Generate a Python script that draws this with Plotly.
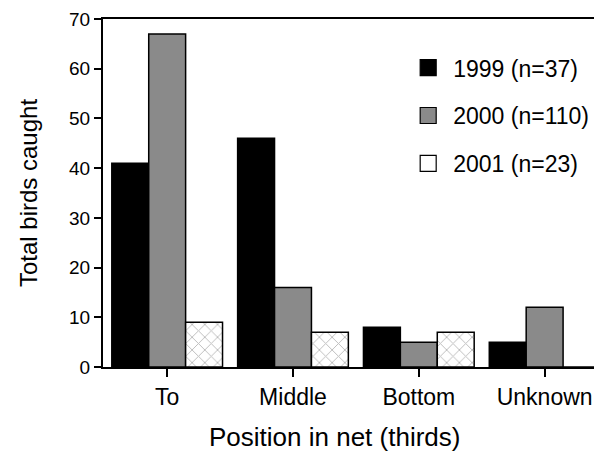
import plotly.graph_objects as go

categories = ["To", "Middle", "Bottom", "Unknown"]
y1999 = [41, 46, 8, 5]
y2000 = [67, 16, 5, 12]
y2001 = [9, 7, 7, 0]
names = ["1999 (n=37)", "2000 (n=110)", "2001 (n=23)"]
yticks = [0, 10, 20, 30, 40, 50, 60, 70]

font = "Liberation Sans, Arial, sans-serif"
fig = go.Figure()
fig.add_bar(x=categories, y=y1999, name=names[0], showlegend=False,
            marker=dict(color="black", line=dict(color="black", width=1.5)))
fig.add_bar(x=categories, y=y2000, name=names[1], showlegend=False,
            marker=dict(color="#8a8a8a", line=dict(color="black", width=1.5)))
fig.add_bar(x=categories, y=y2001, name=names[2], showlegend=False,
            marker=dict(color="white", line=dict(color="black", width=1.5),
                        pattern=dict(shape="x", fgcolor="#7a7a7a", bgcolor="white",
                                     size=9, solidity=0.2)))

# legend proxies (larger square symbols)
legend_colors = ["black", "#8a8a8a", "white"]
for i, (nm, col) in enumerate(zip(names, legend_colors)):
    fig.add_scatter(x=[None], y=[None], mode="markers", name=nm, legendgroup=str(i),
                    marker=dict(symbol="square", size=16, color=col,
                                line=dict(color="black", width=1.2)))

fig.update_layout(
    width=594, height=456,
    margin=dict(l=95, r=2, t=11, b=97),
    paper_bgcolor="white", plot_bgcolor="white",
    barmode="group", bargap=0.12, bargroupgap=0,
    font=dict(family=font, size=22, color="black"),
    legend=dict(x=0.604, y=0.922, xanchor="left", yanchor="top",
                traceorder="grouped", tracegroupgap=15, itemwidth=40,
                itemsizing="trace",
                font=dict(size=23), bgcolor="rgba(0,0,0,0)"),
    xaxis=dict(range=[-0.51, 3.44], showline=True, linecolor="black", linewidth=2,
               mirror=True, ticks="outside", ticklen=8, tickwidth=1.5, tickcolor="black",
               tickfont=dict(size=23), showgrid=False),
    yaxis=dict(range=[0, 70], tickvals=yticks, showline=True, linecolor="black", linewidth=2,
               ticks="outside", ticklen=7, tickwidth=1.5, tickcolor="black",
               tickfont=dict(size=19), showgrid=False, zeroline=False,
               title=dict(text="Total birds caught", font=dict(size=24), standoff=25)),
    annotations=[dict(text="Position in net (thirds)", xref="paper", yref="paper",
                      x=0.465, y=-0.201, xanchor="center", yanchor="middle",
                      showarrow=False, font=dict(size=26))],
)
fig.write_html("out.html")
